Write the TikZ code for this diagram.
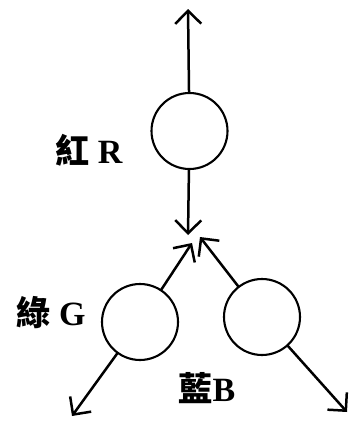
\documentclass[tikz,border=0pt]{standalone}
\usepackage{fontspec}
\setmainfont{Liberation Serif}
\newfontfamily\cjk{Noto Sans CJK TC}
\usetikzlibrary{arrows.meta}
\begin{document}
\begin{tikzpicture}[x=1pt,y=-1pt,
  lamp/.style={circle,draw,line width=2.1pt,minimum size=76pt,inner sep=0pt,outer sep=0pt},
  ray/.style={line width=2.5pt,-{Straight Barb[length=13pt,width=26pt,line width=2.5pt]}},
  tag/.style={font=\fontsize{34}{36}\selectfont\bfseries,inner sep=0pt}]
\useasboundingbox (0,0) rectangle (349,423);

% the three colour lamps
\node[lamp] (red)   at (189.5,131) {};
\node[lamp] (green) at (140,322) {};
\node[lamp] (blue)  at (262,317) {};

% arrow ends
\coordinate (up)    at (188,9);
\coordinate (downR) at (188,235);
\coordinate (meetG) at (192,243);
\coordinate (meetB) at (200,237);
\coordinate (outG)  at (72,416);
\coordinate (outB)  at (347,412);

\draw[ray] (red) -- (up);
\draw[ray] (red) -- (downR);
\draw[ray] (green) -- (meetG);
\draw[ray] (green) -- (outG);
\draw[ray] (blue) -- (meetB);
\draw[ray] (blue) -- (outB);

% labels
\node[tag] (lr) at (89,150) {{\cjk 紅} R};
\node[tag] (lg) at (51,313) {{\cjk 綠} G};
\node[tag] (lb) at (207,388) {{\cjk 藍}B};
\end{tikzpicture}
\end{document}
